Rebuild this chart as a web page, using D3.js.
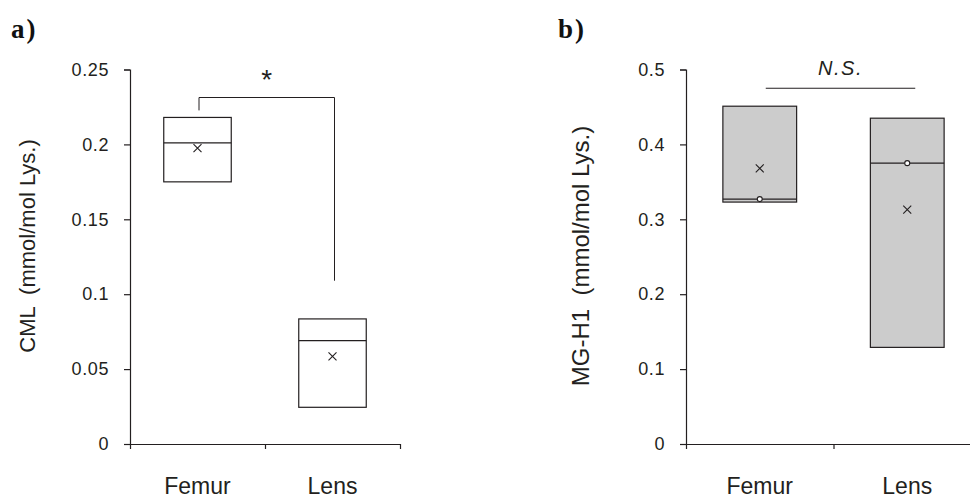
<!DOCTYPE html>
<html>
<head>
<meta charset="utf-8">
<script src="https://cdn.jsdelivr.net/npm/d3@7"></script>
<style>
    body { margin: 0; background: #fff; }
    svg { display: block; }
    svg text { font-family: "Liberation Sans", Arial, Helvetica, sans-serif; }
</style>
</head>
<body>
<svg id="chart" width="970" height="500"></svg>
<script>
"use strict";

const categories = ["Femur", "Lens"];

// panel a: CML
const cmlTop = [0.218, 0.0835];
const cmlMedian = [0.201, 0.069];
const cmlBottom = [0.175, 0.0245];
const cmlMean = [0.1975, 0.0585];
const cmlTicks = [0, 0.05, 0.1, 0.15, 0.2, 0.25];
const cmlTickLabels = ["0", "0.05", "0.1", "0.15", "0.2", "0.25"];
// bracket: left foot, top, right foot
const cmlBracket = [0.2227, 0.2313, 0.109];

// panel b: MG-H1
const mgTop = [0.451, 0.435];
const mgMedian = [0.327, 0.375];
const mgBottom = [0.323, 0.129];
const mgMean = [0.368, 0.313];
const mgTicks = [0, 0.1, 0.2, 0.3, 0.4, 0.5];
const mgTickLabels = ["0", "0.1", "0.2", "0.3", "0.4", "0.5"];
const mgNsLine = [0.475];

const ink = "#231f20";
const sans = "'Liberation Sans', Arial, Helvetica, sans-serif";
const svg = d3.select("#chart");

function drawPanel(opts) {
    const g = svg.append("g");

    const x = d3.scaleBand()
        .domain(categories)
        .range(opts.xRange)
        .paddingInner(0).paddingOuter(0);

    const y = d3.scaleLinear()
        .domain([0, opts.yMax])
        .range([444, 69.5]);

    // y axis
    const yAxis = g.append("g")
        .attr("transform", `translate(${opts.xRange[0]},0)`)
        .call(d3.axisLeft(y)
            .tickValues(opts.ticks)
            .tickFormat((d, i) => opts.tickLabels[i])
            .tickSize(6)
            .tickPadding(15));
    yAxis.attr("font-family", sans);
    yAxis.selectAll("path, line").attr("stroke", ink).attr("stroke-width", 1.2);
    yAxis.selectAll("text")
        .attr("fill", ink)
        .style("font-size", "18px")
        .style("letter-spacing", "0.6px");

    // x axis: ticks between categories
    const xEdges = categories.map(c => x(c)).concat([opts.xRange[1]]);
    g.append("line")
        .attr("x1", opts.xRange[0]).attr("x2", opts.xRange[1])
        .attr("y1", y(0) + 0.5).attr("y2", y(0) + 0.5)
        .attr("stroke", ink).attr("stroke-width", 1.2);
    g.selectAll(".xtick")
        .data(xEdges)
        .enter().append("line")
        .attr("x1", d => d + 0.5).attr("x2", d => d + 0.5)
        .attr("y1", y(0)).attr("y2", y(0) + 5)
        .attr("stroke", ink).attr("stroke-width", 1.2);
    g.selectAll(".xlabel")
        .data(categories)
        .enter().append("text")
        .attr("x", d => x(d) + x.bandwidth() / 2)
        .attr("y", 494)
        .attr("text-anchor", "middle")
        .attr("fill", ink)
        .style("font-size", "23px")
        .text(d => d);

    // y title (keep the double space)
    g.append("text")
        .attr("transform", `translate(${opts.titleX},${opts.titleY}) rotate(-90)`)
        .attr("text-anchor", "middle")
        .attr("fill", ink)
        .style("font-size", opts.titleSize)
        .style("white-space", "pre")
        .text(opts.title);

    // panel letter
    g.append("text")
        .attr("x", opts.letterX)
        .attr("y", 38)
        .attr("fill", "#111")
        .style("font-family", "'Liberation Serif', 'Times New Roman', serif")
        .style("font-weight", "bold")
        .style("font-size", "27px")
        .style("letter-spacing", "2px")
        .text(opts.letter);

    // boxes
    const boxW = x.bandwidth() * 0.5;
    const cx = d => x(d) + x.bandwidth() / 2;
    g.selectAll(".box")
        .data(categories)
        .enter().append("rect")
        .attr("x", d => cx(d) - boxW / 2)
        .attr("y", (d, i) => y(opts.top[i]))
        .attr("width", boxW)
        .attr("height", (d, i) => y(opts.bottom[i]) - y(opts.top[i]))
        .attr("fill", opts.fill)
        .attr("stroke", ink)
        .attr("stroke-width", 1.2);
    g.selectAll(".median")
        .data(categories)
        .enter().append("line")
        .attr("x1", d => cx(d) - boxW / 2).attr("x2", d => cx(d) + boxW / 2)
        .attr("y1", (d, i) => y(opts.median[i])).attr("y2", (d, i) => y(opts.median[i]))
        .attr("stroke", ink).attr("stroke-width", 1.2);

    // mean markers
    g.selectAll(".mean")
        .data(categories)
        .enter().append("path")
        .attr("transform", (d, i) => `translate(${cx(d)},${y(opts.mean[i])})`)
        .attr("d", "M-4,-4L4,4M-4,4L4,-4")
        .attr("stroke", ink).attr("stroke-width", 1.1);

    if (opts.medianDots) {
        g.selectAll(".mdot")
            .data(categories)
            .enter().append("circle")
            .attr("cx", d => cx(d))
            .attr("cy", (d, i) => y(opts.median[i]))
            .attr("r", 2.5)
            .attr("fill", "#fff")
            .attr("stroke", ink).attr("stroke-width", 1.1);
    }

    return {g: g, x: x, y: y, cx: cx};
}

const a = drawPanel({
    xRange: [130, 400], yMax: 0.25,
    ticks: cmlTicks, tickLabels: cmlTickLabels,
    top: cmlTop, median: cmlMedian, bottom: cmlBottom, mean: cmlMean,
    fill: "#fff", medianDots: false,
    title: "CML  (mmol/mol Lys.)", titleX: 35, titleY: 246, titleSize: "22px",
    letter: "a)", letterX: 11
});

const b = drawPanel({
    xRange: [686, 981], yMax: 0.5,
    ticks: mgTicks, tickLabels: mgTickLabels,
    top: mgTop, median: mgMedian, bottom: mgBottom, mean: mgMean,
    fill: "#cccccc", medianDots: true,
    title: "MG-H1  (mmol/mol Lys.)", titleX: 589, titleY: 256, titleSize: "24px",
    letter: "b)", letterX: 558
});

// significance bracket on panel a
const bx1 = a.cx("Femur") + 1.5;
const bx2 = a.cx("Lens") + 2;
a.g.append("path")
    .attr("d", `M${bx1},${a.y(cmlBracket[0])}V${a.y(cmlBracket[1])}H${bx2}V${a.y(cmlBracket[2])}`)
    .attr("fill", "none")
    .attr("stroke", ink).attr("stroke-width", 1);
a.g.append("text")
    .attr("x", (bx1 + bx2) / 2)
    .attr("y", 89)
    .attr("text-anchor", "middle")
    .attr("fill", ink)
    .style("font-size", "28px")
    .text("*");

// N.S. line on panel b
const nx1 = b.cx("Femur") + 6;
const nx2 = b.cx("Lens") + 8;
b.g.append("line")
    .attr("x1", nx1).attr("x2", nx2)
    .attr("y1", b.y(mgNsLine[0])).attr("y2", b.y(mgNsLine[0]))
    .attr("stroke", ink).attr("stroke-width", 1.2);
b.g.append("text")
    .attr("x", (nx1 + nx2) / 2)
    .attr("y", 75)
    .attr("text-anchor", "middle")
    .attr("fill", ink)
    .style("font-size", "20px")
    .style("font-style", "italic")
    .style("letter-spacing", "1.5px")
    .text("N.S.");
</script>
</body>
</html>
